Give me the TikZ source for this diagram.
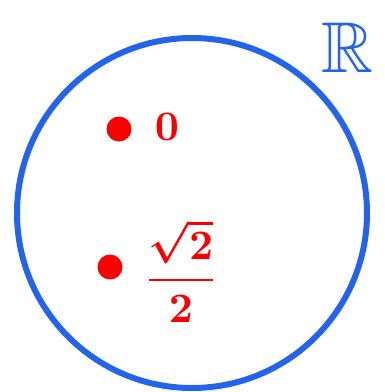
\documentclass[tikz,border=0pt]{standalone}
\usepackage{amsmath,amssymb}
\usepackage{tikz}
\definecolor{penblue}{RGB}{36,100,232}
\definecolor{penred}{RGB}{250,0,0}

\begin{document}
\begin{tikzpicture}[
    x=1pt, y=-1pt,
    ring/.style  ={draw=penblue, line width=6pt},
    spot/.style  ={circle, fill=penred, minimum size=25pt, inner sep=0pt},
    val/.style   ={text=penred, inner sep=0pt},
    setname/.style={text=penblue, inner sep=0pt},
  ]
  % page frame in pixel units, y pointing down
  \useasboundingbox (0,0) rectangle (384,392);
  % the disc
  \draw[ring] (192,213) circle[radius=175];
  % the set name, top right
  \node[setname] (set-r) at (347,48) {\scalebox{7.2}{$\mathbb{R}$}};
  % two marked points with their values
  \node[spot] (pt-a) at (119,129) {};
  \node[val]  (val-a) at (167,127) {\scalebox{4.2}{\boldmath$0$}};
  \node[spot] (pt-b) at (110,267) {};
  \node[val]  (val-b) at (181,271) {\scalebox{4.2}{\boldmath$\displaystyle\frac{\sqrt{2}}{2}$}};
\end{tikzpicture}
\end{document}
